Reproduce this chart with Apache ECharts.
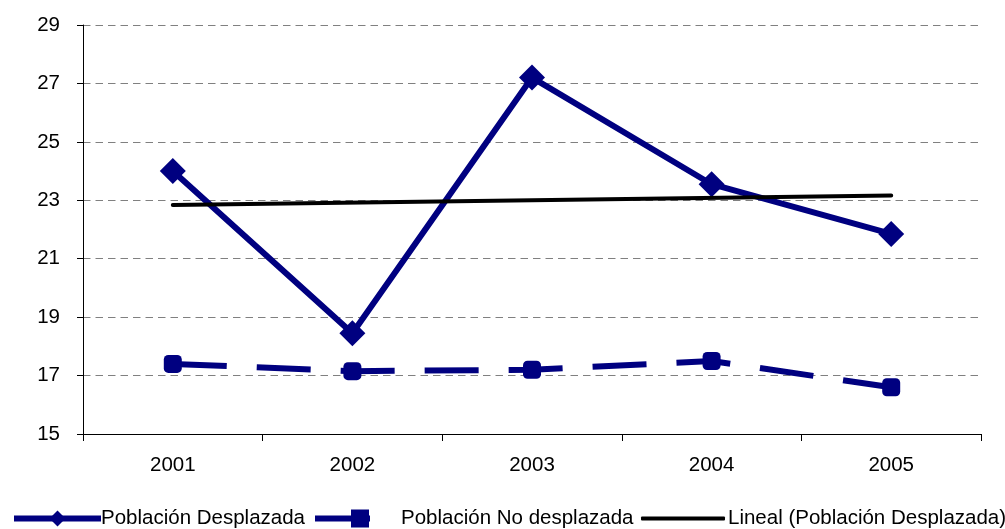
<!DOCTYPE html>
<html>
<head>
<meta charset="utf-8">
<title>Población Desplazada vs No desplazada</title>
<script src="https://cdn.jsdelivr.net/npm/echarts@6/dist/echarts.min.js"></script>
<style>
  html, body { margin: 0; padding: 0; background: #ffffff; }
  #chart { width: 1005px; height: 529px; }
</style>
</head>
<body>
<div id="chart"></div>
<script>
// Years on the category axis
const years = ['2001', '2002', '2003', '2004', '2005'];

// Series values
const desplazada = [24.0, 18.45, 27.2, 23.55, 21.85];
const noDesplazada = [17.4, 17.15, 17.2, 17.5, 16.6];

// Linear trend of "Población Desplazada": end points only, joined across the gap
const tendencia = [22.84, null, null, null, 23.16];

// Y axis range and step
const yMin = 15;
const yMax = 29;
const yStep = 2;

const NAVY = '#000080';
const FONT = "'Liberation Sans', Arial, sans-serif";

const chart = echarts.init(document.getElementById('chart'), null, { renderer: 'canvas' });

const legendText = { fontFamily: FONT, fontSize: 20.5, color: '#000000' };

chart.setOption({
  animation: false,
  backgroundColor: '#ffffff',
  grid: { left: 83, right: 24, top: 25, bottom: 95, containLabel: false },
  legend: [
    {
      data: ['Población Desplazada'],
      left: 11, top: 508,
      itemWidth: 87, itemHeight: 20,
      padding: 0,
      lineStyle: { width: 6 },
      textStyle: Object.assign({ padding: [0, 0, 0, -5] }, legendText)
    },
    {
      data: ['Población No desplazada'],
      left: 315, top: 508,
      itemWidth: 55, itemHeight: 18,
      // solid bar with the square marker near its right end
      icon: 'path://M0,6H55V12H0Z M36,0H54V18H36Z',
      padding: 0,
      textStyle: Object.assign({ padding: [0, 0, 0, 26] }, legendText)
    },
    {
      data: ['Lineal (Población Desplazada)'],
      left: 641, top: 508,
      itemWidth: 84, itemHeight: 4,
      icon: 'roundRect',
      padding: 0,
      textStyle: Object.assign({ padding: [0, 0, 0, -2] }, legendText)
    }
  ],
  xAxis: {
    type: 'category',
    data: years,
    boundaryGap: true,
    axisLine: { show: true, lineStyle: { color: '#000000', width: 1 } },
    axisTick: { show: true, alignWithLabel: false, length: 7, lineStyle: { color: '#000000' } },
    axisLabel: { fontFamily: FONT, fontSize: 20.5, color: '#000000', margin: 21 },
    splitLine: { show: false }
  },
  yAxis: {
    type: 'value',
    min: yMin, max: yMax, interval: yStep,
    axisLine: { show: true, lineStyle: { color: '#000000', width: 1 } },
    axisTick: { show: true, length: 6, lineStyle: { color: '#000000' } },
    axisLabel: { fontFamily: FONT, fontSize: 20.5, color: '#000000', margin: 23 },
    splitLine: { show: true, lineStyle: { color: '#808080', width: 1, type: [7.5, 5] } }
  },
  series: [
    {
      name: 'Población Desplazada',
      type: 'line',
      data: desplazada,
      symbol: 'diamond',
      symbolSize: 26,
      itemStyle: { color: NAVY },
      lineStyle: { color: NAVY, width: 6 },
      z: 3
    },
    {
      name: 'Población No desplazada',
      type: 'line',
      data: noDesplazada,
      symbol: 'roundRect',
      symbolSize: 18,
      itemStyle: { color: NAVY },
      lineStyle: { color: NAVY, width: 6, type: [54, 30] },
      z: 3
    },
    {
      name: 'Lineal (Población Desplazada)',
      type: 'line',
      data: tendencia,
      connectNulls: true,
      symbol: 'none',
      itemStyle: { color: '#000000' },
      lineStyle: { color: '#000000', width: 4, cap: 'round' },
      z: 4
    }
  ]
});
</script>
</body>
</html>
